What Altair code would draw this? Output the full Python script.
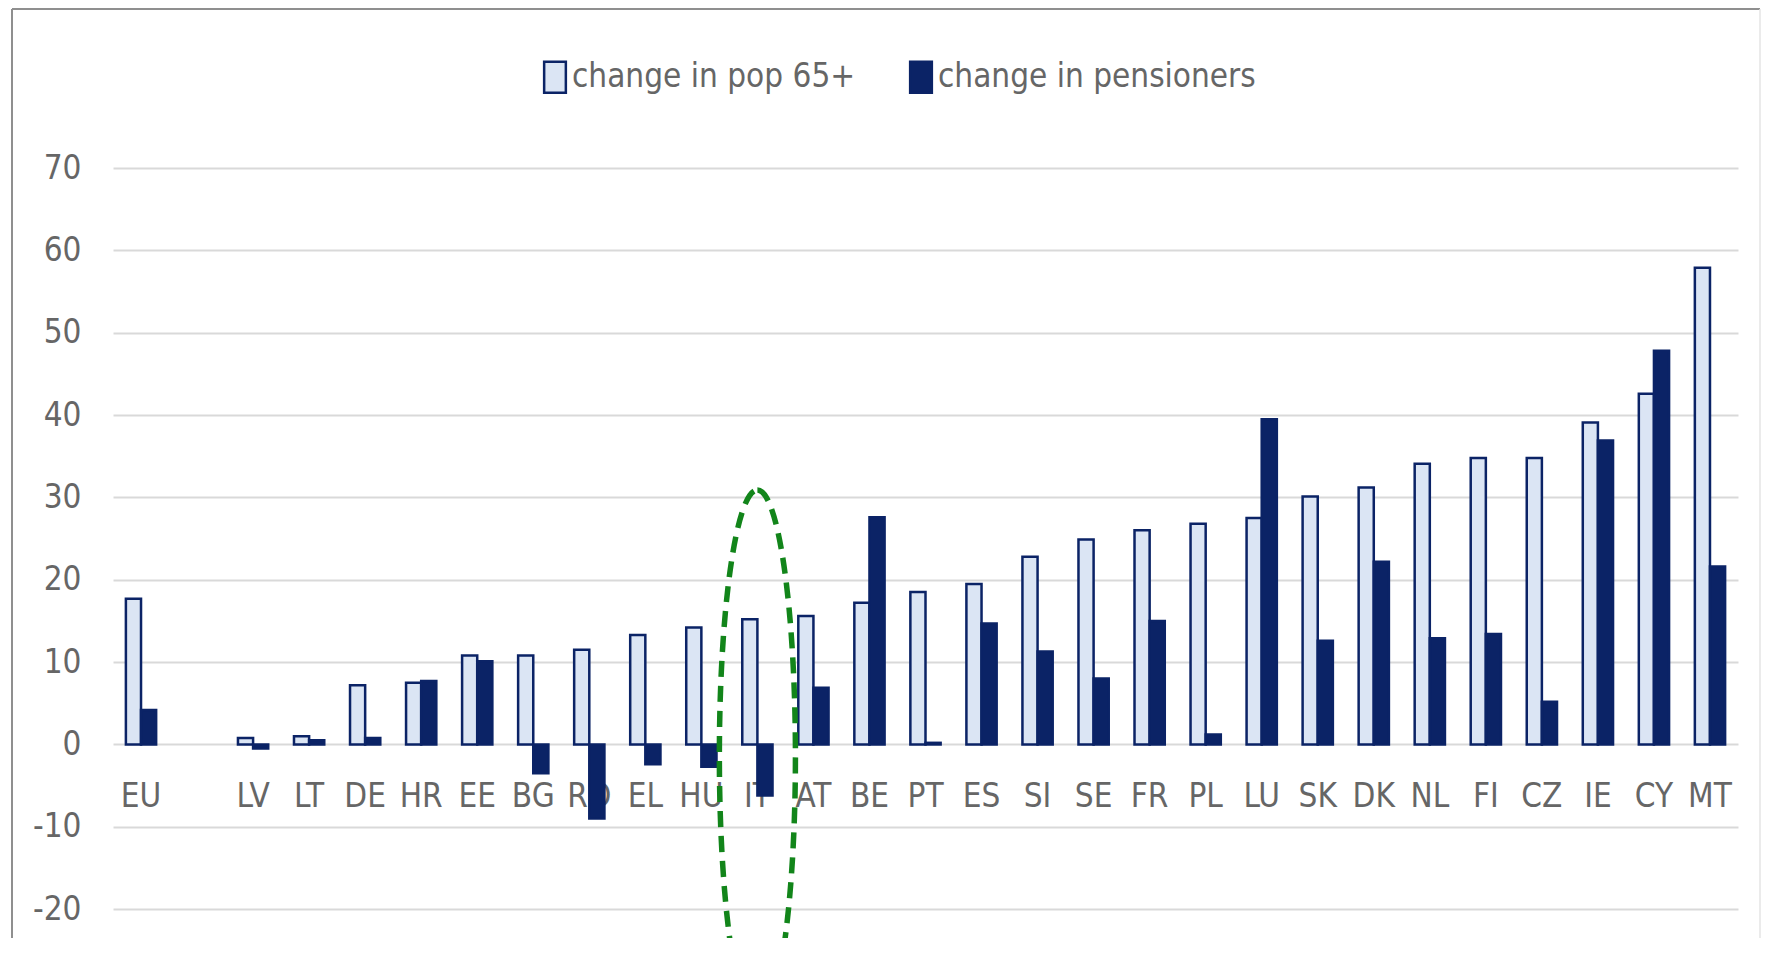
import altair as alt
import pandas as pd

# ---------------- data ----------------
countries = ["EU", " ", "LV", "LT", "DE", "HR", "EE", "BG", "RO", "EL", "HU", "IT",
             "AT", "BE", "PT", "ES", "SI", "SE", "FR", "PL", "LU", "SK", "DK", "NL",
             "FI", "CZ", "IE", "CY", "MT"]
pop65 = [17.7, None, 0.8, 1.0, 7.2, 7.5, 10.8, 10.8, 11.5, 13.3, 14.2, 15.2,
         15.6, 17.2, 18.5, 19.5, 22.8, 24.9, 26.0, 26.8, 27.5, 30.1, 31.2, 34.1,
         34.8, 34.8, 39.1, 42.6, 57.9]
pensioners = [4.2, None, -0.5, 0.5, 0.8, 7.7, 10.1, -3.5, -9.0, -2.4, -2.7, -6.2,
              6.9, 27.6, 0.2, 14.7, 11.3, 8.0, 15.0, 1.2, 39.5, 12.6, 22.2, 12.9,
              13.4, 5.2, 36.9, 47.8, 21.6]
series = ["change in pop 65+", "change in pensioners"]
y_ticks = [-20, -10, 0, 10, 20, 30, 40, 50, 60, 70]
highlight_country = ["IT"]
highlight_value = [-1.4]

rows = []
for c, a, b in zip(countries, pop65, pensioners):
    if a is not None:
        rows.append({"country": c, "series": series[0], "value": a})
    if b is not None:
        rows.append({"country": c, "series": series[1], "value": b})
df = pd.DataFrame(rows)
ell_df = pd.DataFrame({"country": highlight_country, "value": highlight_value})

# ---------------- styling ----------------
W, H = 1625, 770
ymin, ymax = -23.5, 70
zero_px = H * ymax / (ymax - ymin)
x_axis_offset = -(H - zero_px)

FONT = "Liberation Sans Narrow, Arial Narrow, DejaVu Sans Condensed, Roboto, sans-serif"
GRAY = "#666666"
NAVY = "#0b2366"
LIGHT = "#dbe5f4"
FRAME = "#8f8f8f"
FS = 33

x_enc = alt.X(
    "country:N", sort=countries,
    scale=alt.Scale(domain=countries, paddingInner=0.46, paddingOuter=0.23),
    axis=alt.Axis(title=None, orient="bottom", offset=x_axis_offset, domain=False,
                  ticks=False, grid=False, labelAngle=0, labelFont=FONT,
                  labelFontSize=FS, labelColor=GRAY, labelPadding=52,
                  labelBaseline="middle", labelLimit=0, labelOverlap=False),
)
y_enc = alt.Y(
    "value:Q",
    scale=alt.Scale(domain=[ymin, ymax], nice=False, zero=False),
    axis=alt.Axis(title=None, values=y_ticks, domain=False, ticks=False, grid=True,
                  gridColor="#d9d9d9", gridWidth=2.2, labelFont=FONT,
                  labelFontSize=FS, labelColor=GRAY, labelPadding=32,
                  labelBaseline="middle",
                  labelExpr="datum.value < 0 ? '-' + abs(datum.value) : '' + datum.value"),
)

bars = alt.Chart(df).mark_bar(strokeWidth=2.5).encode(
    x=x_enc,
    y=y_enc,
    xOffset=alt.XOffset("series:N", sort=series,
                        scale=alt.Scale(domain=series, paddingInner=0, paddingOuter=0)),
    fill=alt.Fill("series:N", sort=series,
                  scale=alt.Scale(domain=series, range=[LIGHT, NAVY]),
                  legend=alt.Legend(title=None, orient="none", legendX=425, legendY=-108,
                                    direction="horizontal",
                                    symbolType="M-0.7,-1H0.7V1H-0.7Z", symbolSize=961,
                                    symbolStrokeColor=NAVY, symbolStrokeWidth=2.5,
                                    labelFont=FONT, labelFontSize=FS, labelColor=GRAY,
                                    labelOffset=0, columnPadding=48, labelLimit=0,
                                    padding=0)),
    stroke=alt.Stroke("series:N", sort=series,
                      scale=alt.Scale(domain=series, range=[NAVY, NAVY]),
                      legend=None),
)

ellipse = alt.Chart(ell_df).mark_point(
    shape="M0,-1A0.143,1,0,1,1,0,1A0.143,1,0,1,1,0,-1Z",
    size=283024, filled=False, stroke="#12851a", strokeWidth=5.5,
    strokeDash=[16, 9], opacity=1, clip=True,
).encode(x=x_enc, y=y_enc)

one = alt.Data(values=[{"k": 0}])
left_rule = alt.Chart(one).mark_rule(color=FRAME, strokeWidth=2).encode(
    x=alt.value(-101), y=alt.value(-159), y2=alt.value(H))
top_rule = alt.Chart(one).mark_rule(color=FRAME, strokeWidth=2).encode(
    x=alt.value(-101), x2=alt.value(1647), y=alt.value(-159))
right_rule = alt.Chart(one).mark_rule(color="#e4e4e4", strokeWidth=1.5).encode(
    x=alt.value(1647), y=alt.value(-159), y2=alt.value(H))

chart = alt.layer(left_rule, top_rule, right_rule, bars, ellipse).properties(
    width=W, height=H,
    padding={"left": 105, "top": 160, "right": 23, "bottom": 0},
    autosize=alt.AutoSizeParams(type="none"),
    background="white",
).configure_view(stroke=None)

chart.save("out.html", embed_options={"renderer": "svg", "actions": False})
